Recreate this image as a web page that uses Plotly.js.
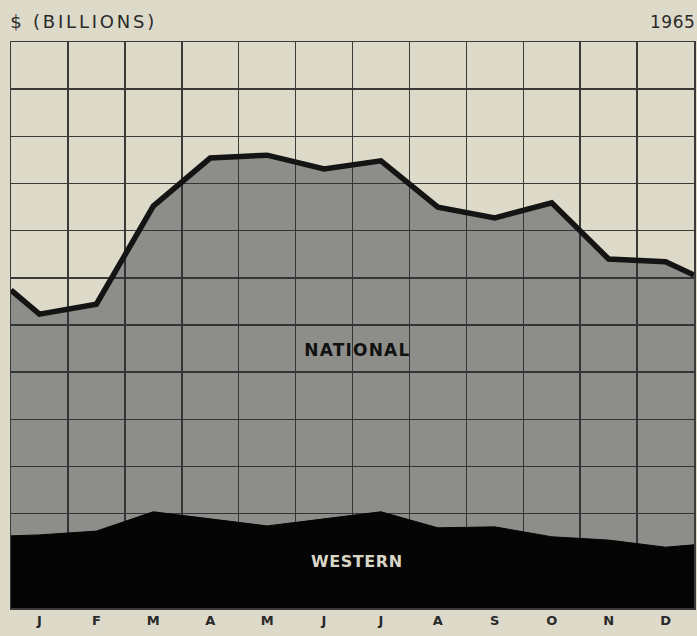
<!DOCTYPE html>
<html>
<head>
<meta charset="utf-8">
<script src="https://cdn.plot.ly/plotly-3.0.1.min.js"></script>
<style>
html,body{margin:0;padding:0;background:#dddac9;}
#chart{width:697px;height:636px;}
g.annotation[data-index="0"] text{letter-spacing:2.8px;}
g.annotation[data-index="1"] text{letter-spacing:0.5px;}
g.annotation[data-index="2"] text{letter-spacing:1.2px;}
g.annotation[data-index="3"] text{letter-spacing:0.6px;}
</style>
</head>
<body>
<div id="chart"></div>
<script>
// Month labels (columns of the grid)
const months = ['J','F','M','A','M','J','J','A','S','O','N','D'];

// National: value at the start of Jan, mid-month values, value at end of Dec (grid units)
const nationalStart = 6.74;
const nationalMonthly = [6.23, 6.44, 8.52, 9.54, 9.60, 9.31, 9.48, 8.50, 8.27, 8.59, 7.40, 7.34];
const nationalEnd = 7.06;

// Western
const westernStart = 1.53;
const westernMonthly = [1.55, 1.63, 2.04, 1.89, 1.74, 1.89, 2.04, 1.70, 1.72, 1.51, 1.44, 1.29];
const westernEnd = 1.34;

const xs = [0].concat(months.map((m, i) => i + 0.5), [months.length]);
const national = [nationalStart].concat(nationalMonthly, [nationalEnd]);
const western = [westernStart].concat(westernMonthly, [westernEnd]);

const bg = '#dddac9';
const ink = '#1e1e1e';

const traces = [
  {
    x: xs, y: national, type: 'scatter', mode: 'lines', name: 'NATIONAL',
    fill: 'tozeroy', fillcolor: 'rgba(45,47,59,0.45)',
    line: {color: '#141414', width: 5.5}, hoverinfo: 'skip'
  },
  {
    x: xs, y: western, type: 'scatter', mode: 'lines', name: 'WESTERN',
    fill: 'tozeroy', fillcolor: '#050505',
    line: {color: '#050505', width: 1}, hoverinfo: 'skip'
  }
];

const layout = {
  width: 697, height: 636,
  margin: {l: 11, r: 3, t: 42, b: 28},
  paper_bgcolor: bg, plot_bgcolor: bg,
  showlegend: false,
  font: {family: 'DejaVu Sans, sans-serif', color: ink},
  xaxis: {
    range: [0, 12], fixedrange: true, zeroline: false,
    tickmode: 'array', tickvals: months.map((m, i) => i + 0.5), ticktext: months,
    showgrid: false, ticks: '', ticklen: 0,
    tickfont: {family: 'DejaVu Sans, sans-serif', size: 13, color: '#2a2a2a', weight: 'bold'},
    showline: true, linecolor: '#3a3a3a', linewidth: 1.5, mirror: true,
    minor: {tickmode: 'linear', tick0: 0, dtick: 1, showgrid: true, gridcolor: '#3a3a36', gridwidth: 1.5, ticks: ''}
  },
  yaxis: {
    range: [0, 12], fixedrange: true, zeroline: false,
    tickmode: 'linear', tick0: 0, dtick: 1, showticklabels: false, ticks: '',
    showgrid: true, gridcolor: '#3a3a36', gridwidth: 1.5,
    showline: true, linecolor: '#3a3a3a', linewidth: 1.5, mirror: true
  },
  annotations: [
    {text: '$ (BILLIONS)', xref: 'paper', yref: 'paper', x: 0, y: 1, xanchor: 'left', yanchor: 'bottom',
     yshift: 8, xshift: 14, showarrow: false, font: {size: 18, color: '#2a2a2a', family: 'DejaVu Sans, sans-serif'}},
    {text: '1965', xref: 'paper', yref: 'paper', x: 1, y: 1, xanchor: 'right', yanchor: 'bottom',
     yshift: 8, xshift: 2, showarrow: false, font: {size: 17, color: '#2a2a2a', family: 'DejaVu Sans, sans-serif'}},
    {text: '<b>NATIONAL</b>', x: 6.08, y: 5.47, xref: 'x', yref: 'y', showarrow: false,
     font: {size: 17, color: '#111111', family: 'DejaVu Sans, sans-serif'}},
    {text: '<b>WESTERN</b>', x: 6.08, y: 0.98, xref: 'x', yref: 'y', showarrow: false,
     font: {size: 16, color: '#d8d6c6', family: 'DejaVu Sans, sans-serif'}}
  ]
};

Plotly.newPlot('chart', traces, layout, {displayModeBar: false, staticPlot: true});
</script>
</body>
</html>
